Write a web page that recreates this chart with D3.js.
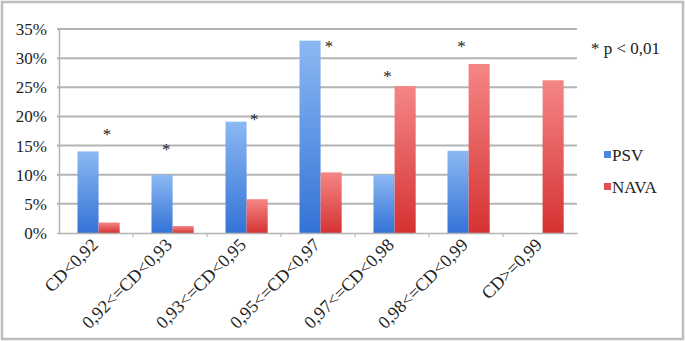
<!DOCTYPE html>
<html><head><meta charset="utf-8">
<script src="https://cdn.jsdelivr.net/npm/d3@7"></script>
<style>body{margin:0;background:#fff}svg{display:block}</style>
</head><body>
<script>
const categories = ["CD<0,92","0,92<=CD<0,93","0,93<=CD<0,95","0,95<=CD<0,97","0,97<=CD<0,98","0,98<=CD<0,99","CD>=0,99"];
const psv  = [14, 10, 19.1, 33, 10, 14.1, 0];
const nava = [1.8, 1.2, 5.8, 10.4, 25.2, 29, 26.2];
const seriesNames = ["PSV","NAVA"];
const yTicks = [0,5,10,15,20,25,30,35];
// significance markers: category index, level (%), position within category (fraction)
const stars = [
  {cat:0, level:17.2, pos:0.65},
  {cat:1, level:14.6, pos:0.45},
  {cat:2, level:19.7, pos:0.64},
  {cat:3, level:32.2, pos:0.65},
  {cat:4, level:27.1, pos:0.44},
  {cat:5, level:32.2, pos:0.44}
];
const note = "* p < 0,01";

(function(){
const W=685,H=341;
const svg=d3.select("body").append("svg").attr("width",W).attr("height",H);
const font='"Liberation Serif"';
const fs=17;

const defs=svg.append("defs");
function grad(id,t,b){
  const g=defs.append("linearGradient").attr("id",id).attr("x1",0).attr("y1",0).attr("x2",0).attr("y2",1);
  g.append("stop").attr("offset","0%").attr("stop-color",t);
  g.append("stop").attr("offset","100%").attr("stop-color",b);
}
grad("gPSV","#8cb8f3","#3373d6");
grad("gNAVA","#f58686","#d53232");
const fills=["url(#gPSV)","url(#gNAVA)"];
const legendColors=["#4a88de","#e05252"];

svg.append("rect").attr("x",2).attr("y",2).attr("width",W-4).attr("height",H-4)
  .attr("fill","none").attr("stroke","#bdbdbd").attr("stroke-width",2.5);

const pl=59,pr=577,pt=29,pb=233;
const x=d3.scaleBand().domain(categories).range([pl,pr]);
const y=d3.scaleLinear().domain([0,35]).range([pb,pt]);
const bw=x.bandwidth();
const inner=d3.scaleBand().domain(seriesNames).range([bw*0.25,bw*0.82]);

svg.append("g").selectAll("line").data(yTicks.filter(d=>d>0)).join("line")
  .attr("x1",pl-2).attr("x2",pr).attr("y1",d=>y(d)).attr("y2",d=>y(d))
  .attr("stroke","#b4b4b4").attr("stroke-width",2);

const ya=svg.append("g").attr("transform",`translate(${pl},0)`)
  .call(d3.axisLeft(y).tickValues(yTicks).tickSize(2).tickPadding(10).tickFormat(d=>d+"%"));
ya.attr("font-family",null).attr("font-size",null);
ya.select(".domain").attr("stroke","#b4b4b4").attr("stroke-width",1.5);
ya.selectAll(".tick line").attr("stroke","#b4b4b4");
ya.selectAll("text").style("font-family",font).style("font-size",fs+"px").attr("fill","#222");

const data=categories.map((c,i)=>({c,vals:[psv[i],nava[i]]}));
const groups=svg.append("g").selectAll("g").data(data).join("g")
  .attr("transform",d=>`translate(${x(d.c)},0)`);
groups.selectAll("rect").data(d=>d.vals.map((v,j)=>({v,s:seriesNames[j],j}))).join("rect")
  .attr("x",d=>inner(d.s)).attr("width",inner.bandwidth())
  .attr("y",d=>y(d.v)).attr("height",d=>pb-y(d.v))
  .attr("fill",d=>fills[d.j]);

const xa=svg.append("g").attr("transform",`translate(0,${pb})`)
  .call(d3.axisBottom(x).tickSize(0).tickFormat(""));
xa.select(".domain").attr("stroke","#b4b4b4").attr("stroke-width",1.5);
svg.append("g").selectAll("line").data(categories.slice(1)).join("line")
  .attr("x1",d=>x(d)).attr("x2",d=>x(d)).attr("y1",pb).attr("y2",pb+4)
  .attr("stroke","#b4b4b4").attr("stroke-width",1.2);

svg.append("g").selectAll("text").data(categories).join("text")
  .attr("transform",d=>`translate(${x(d)+bw/2+3},${pb+13}) rotate(-45)`)
  .attr("text-anchor","end").style("font-family",font).style("font-size","18px").attr("fill","#222")
  .text(d=>d);

svg.append("g").selectAll("text").data(stars).join("text")
  .attr("x",d=>x(categories[d.cat])+bw*d.pos).attr("y",d=>y(d.level)+7)
  .attr("text-anchor","middle").style("font-family",font).style("font-size",fs+"px").attr("fill","#222")
  .text("*");

svg.append("text").attr("x",591).attr("y",54).style("font-family",font).style("font-size",fs+"px")
  .attr("fill","#222").text(note);

const lg=svg.append("g").selectAll("g").data(seriesNames).join("g")
  .attr("transform",(d,i)=>`translate(604,${155+i*32})`);
lg.append("rect").attr("x",0).attr("y",-4).attr("width",7).attr("height",7)
  .attr("fill",(d,i)=>legendColors[i]);
lg.append("text").attr("x",8).attr("y",6).style("font-family",font).style("font-size",fs+"px")
  .attr("fill","#222").text(d=>d);
})();
</script>
</body></html>
